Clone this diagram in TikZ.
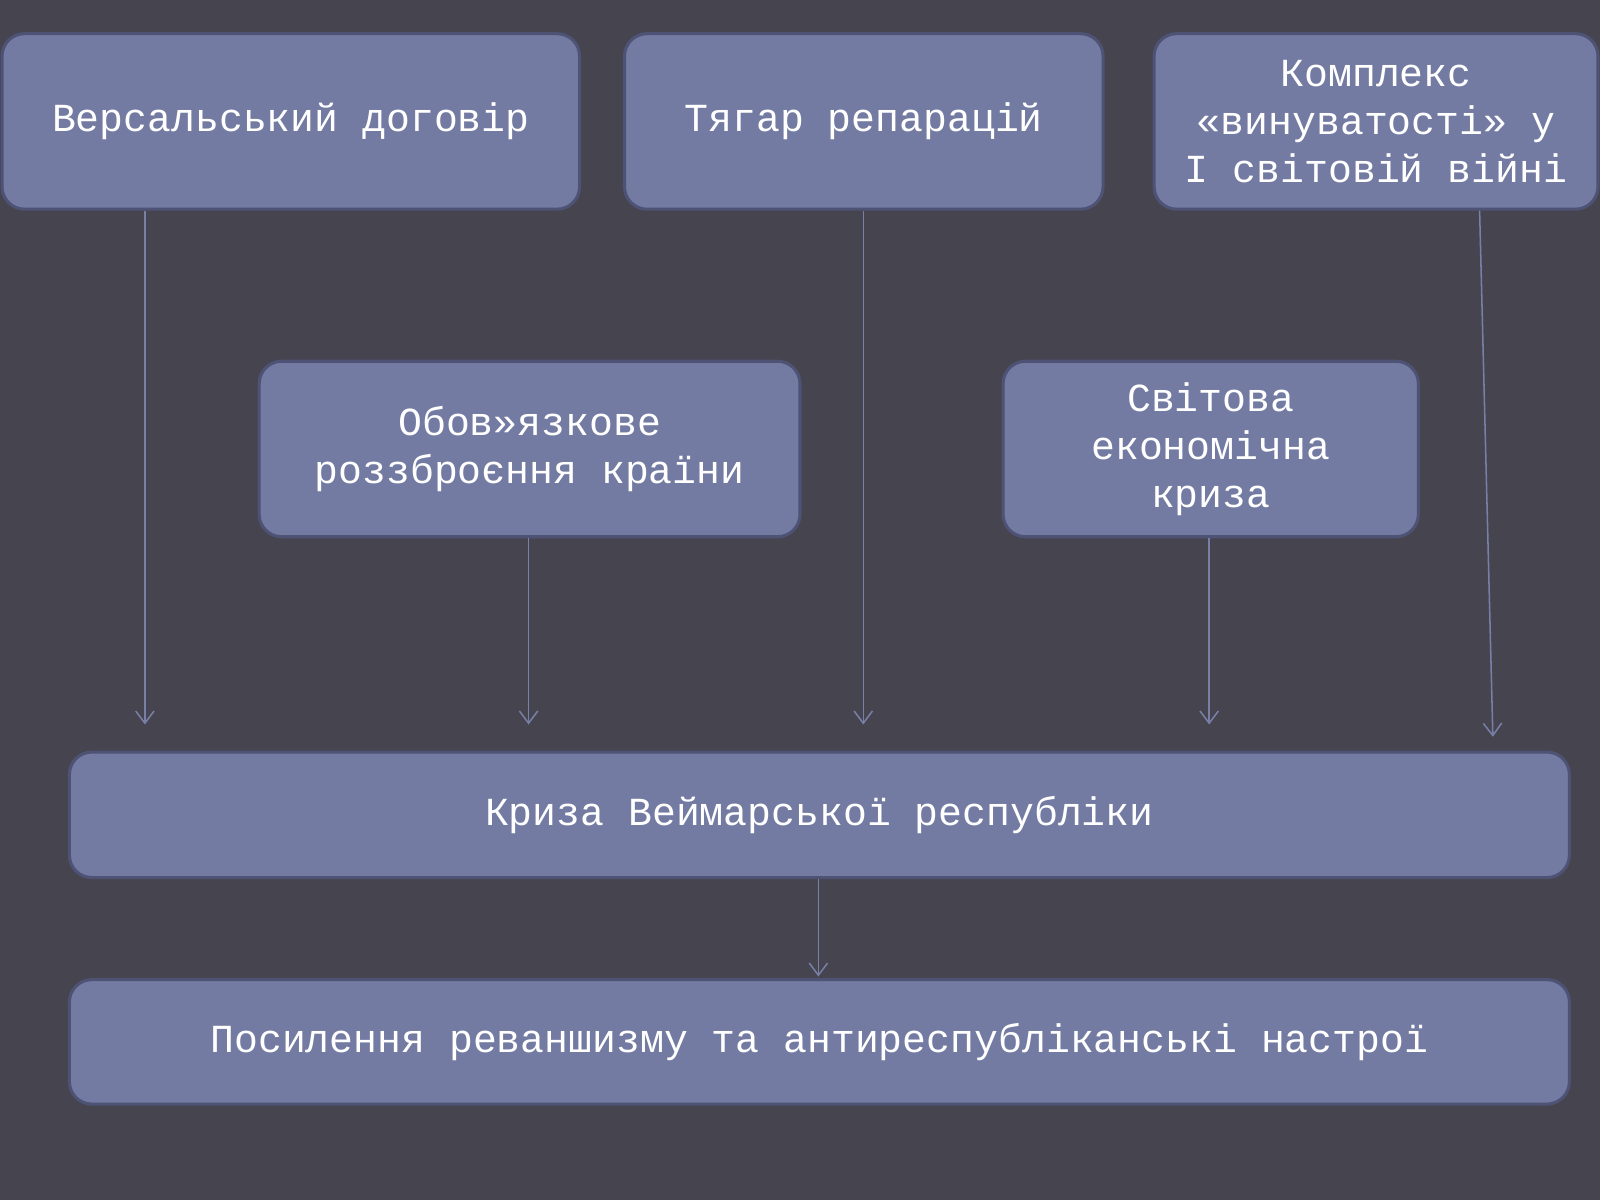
\documentclass[tikz,border=0pt]{standalone}
\usepackage{fontspec}
\setmainfont{Liberation Mono}
\usetikzlibrary{arrows.meta}
\definecolor{bg}{HTML}{45444F}
\definecolor{boxfill}{HTML}{737BA3}
\definecolor{boxline}{HTML}{4E5375}
\definecolor{arr}{HTML}{7880A8}
\begin{document}
\begin{tikzpicture}[x=1pt,y=-1pt,
  bx/.style={draw=boxline,line width=3pt,fill=boxfill,rounded corners=22pt,
    text=white,font=\fontsize{39}{47}\selectfont,align=center,inner sep=0pt},
  con/.style={draw=arr,line width=1.5pt,-{Straight Barb[length=12pt,width=18pt]}}]
\fill[bg] (0,0) rectangle (1568,1176);
\useasboundingbox (0,0) rectangle (1568,1176);
\node[bx,minimum width=566pt,minimum height=172pt] (b1) at (285,119) {Версальський договір};
\node[bx,minimum width=469pt,minimum height=172pt] (b2) at (846.5,119) {Тягар репарацій};
\node[bx,minimum width=435pt,minimum height=172pt] (b3) at (1348.5,119) {Комплекс\\«винуватості» у\\І світовій війні};
\node[bx,minimum width=530pt,minimum height=172pt] (b4) at (519,440) {Обов»язкове\\роззброєння країни};
\node[bx,minimum width=407pt,minimum height=172pt] (b5) at (1186.5,440) {Світова\\економічна\\криза};
\node[bx,minimum width=1470pt,minimum height=123pt] (b6) at (803,798.5) {Криза Веймарської республіки};
\node[bx,minimum width=1470pt,minimum height=122pt] (b7) at (803,1021) {Посилення реваншизму та антиреспубліканські настрої};
\coordinate (e1) at (142,710);
\coordinate (e4) at (518,710);
\coordinate (e2) at (846,710);
\coordinate (e5) at (1185,710);
\coordinate (e3) at (1463,722);
\coordinate (e6) at (802,957);
\draw[con] (b1.south -| e1) -- (e1);
\draw[con] (b4.south -| e4) -- (e4);
\draw[con] (b2.south -| e2) -- (e2);
\draw[con] (b5.south -| e5) -- (e5);
\draw[con] ([xshift=101.5pt]b3.south) -- (e3);
\draw[con] (b6.south -| e6) -- (e6);
\end{tikzpicture}
\end{document}
